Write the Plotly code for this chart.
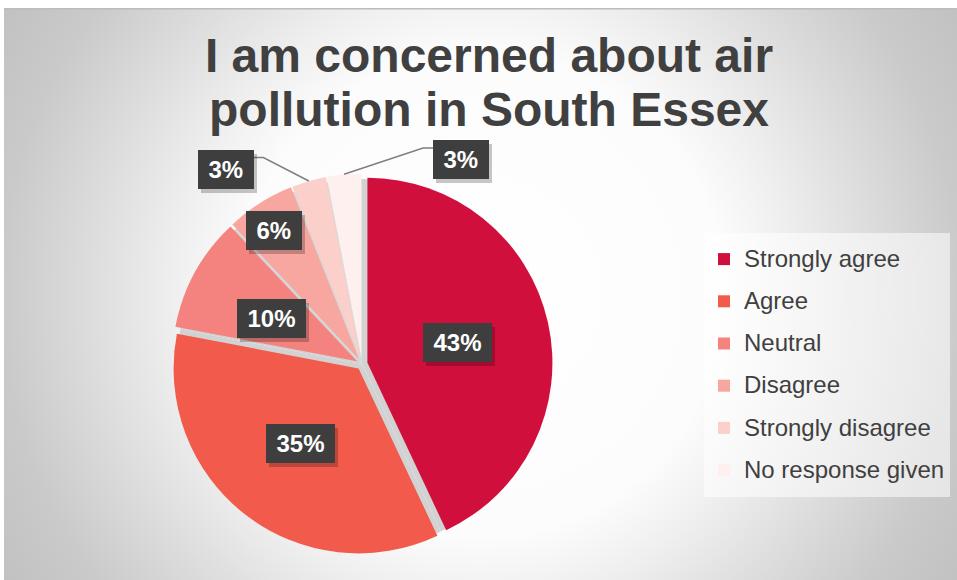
import math
import base64
import plotly.graph_objects as go

# ---------------- data ----------------
categories = ["Strongly agree", "Agree", "Neutral", "Disagree",
              "Strongly disagree", "No response given"]
values = [43, 35, 10, 6, 3, 3]
title_lines = ["I am concerned about air", "pollution in South Essex"]

# ---------------- style ----------------
colors = ["#D10F3D", "#F25A4B", "#F4837F", "#F7A6A0", "#FBCFCA", "#FEF0EE"]
W, H = 957, 580
CX, CY, R, PULL = 362, 364, 185, 0.03
FONT = "Liberation Sans, Arial, sans-serif"
# data-label placement: (radial fraction of R, angle offset in degrees)
label_place = [(0.50, 0), (0.515, 0), (0.517, -2.2), (0.836, -0.9),
               (1.256, -19.3), (1.20, 32)]

def px_to_paper(x, y):
    return x / W, 1 - y / H

# background (radial gradient) as an SVG image
BX0, BY0 = 4, 8
bw, bh = W - BX0, H - BY0
gx, gy, gr = 482 - BX0, 295 - BY0, 560
svg = f'''<svg xmlns="http://www.w3.org/2000/svg" width="{bw}" height="{bh}" viewBox="0 0 {bw} {bh}">
<defs><radialGradient id="g" gradientUnits="userSpaceOnUse" cx="{gx}" cy="{gy}" r="{gr}">
<stop offset="0" stop-color="#ffffff"/>
<stop offset="0.43" stop-color="#fcfcfc"/>
<stop offset="0.55" stop-color="#efefef"/>
<stop offset="0.714" stop-color="#dbdbdb"/>
<stop offset="0.857" stop-color="#cacaca"/>
<stop offset="1" stop-color="#c1c1c1"/>
</radialGradient></defs>
<rect x="0" y="0" width="{bw}" height="{bh}" fill="url(#g)"/>
<line x1="0" y1="0.75" x2="{bw}" y2="0.75" stroke="#bcbcbc" stroke-width="1.5"/>
</svg>'''
bg_src = "data:image/svg+xml;base64," + base64.b64encode(svg.encode()).decode()

fig = go.Figure()

# shadow pie underneath (fills the gaps between exploded slices)
half0 = R
fig.add_trace(go.Pie(
    labels=[c + " (shadow)" for c in categories], values=values,
    marker=dict(colors=["#d2d2d2"] * len(values), line=dict(width=0)),
    sort=False, direction="clockwise", rotation=0, textinfo="none",
    hoverinfo="skip", showlegend=False,
    domain=dict(x=[(CX - half0) / W, (CX + half0) / W],
                y=[1 - (CY + half0) / H, 1 - (CY - half0) / H]),
))

# main pie
half = R * (1 + PULL)
legend_labels = [f"<span style='font-size:24px;baseline-shift:4px'>{c}</span>" for c in categories]
fig.add_trace(go.Pie(
    labels=legend_labels, values=values,
    marker=dict(colors=colors, line=dict(width=0)),
    pull=[PULL] * len(values),
    sort=False, direction="clockwise", rotation=0, textinfo="none",
    hovertemplate="%{customdata}: %{percent}<extra></extra>",
    customdata=categories,
    domain=dict(x=[(CX - half) / W, (CX + half) / W],
                y=[1 - (CY + half) / H, 1 - (CY - half) / H]),
))

# data labels (dark boxes) and leader lines, computed from the slice geometry
total = sum(values)
annotations = []
shapes = []
cum = 0
for i, v in enumerate(values):
    a0 = 360 * cum / total
    span = 360 * v / total
    cum += v
    bis = math.radians(a0 + span / 2)
    pcx = CX + PULL * R * math.sin(bis)
    pcy = CY - PULL * R * math.cos(bis)
    frac, off = label_place[i]
    ang = bis + math.radians(off)
    lx = pcx + frac * R * math.sin(ang)
    ly = pcy - frac * R * math.cos(ang)
    txt = f"{round(100 * v / total)}%"
    text_w = 24 * (0.556 * (len(txt) - 1) + 0.889)
    wparam = text_w + 11
    box_w = wparam + 10
    xp, yp = px_to_paper(lx, ly)
    # drop shadow
    annotations.append(dict(
        x=xp, y=yp, xref="paper", yref="paper", xanchor="center", yanchor="middle",
        text=" ", showarrow=False, width=wparam, height=29, borderpad=5,
        borderwidth=0, bgcolor="rgba(0,0,0,0.22)", xshift=3, yshift=-4,
        font=dict(size=24, family=FONT)))
    annotations.append(dict(
        x=xp, y=yp, xref="paper", yref="paper", xanchor="center", yanchor="middle",
        text=txt, showarrow=False, width=wparam, height=29, borderpad=5,
        borderwidth=0, bgcolor="#3e3e3e",
        font=dict(size=24, family=FONT, color="white", weight="bold")))
    if frac > 1:
        sx = pcx + R * math.sin(bis)
        sy = pcy - R * math.cos(bis)
        if lx < sx:
            ex = lx + box_w / 2
            elx = ex + 10
        else:
            ex = lx - box_w / 2
            elx = ex - 10
        ey = ly - 12
        p1 = px_to_paper(sx, sy)
        p2 = px_to_paper(elx, ey)
        p3 = px_to_paper(ex, ey)
        shapes.append(dict(
            type="path", xref="paper", yref="paper",
            path=f"M {p1[0]},{p1[1]} L {p2[0]},{p2[1]} L {p3[0]},{p3[1]}",
            line=dict(color="#7f7f7f", width=1.5)))

title_text = "<br>".join(f"<span style='font-size:48px'>{t}</span>" for t in title_lines)

fig.update_layout(
    width=W, height=H,
    margin=dict(l=0, r=0, t=0, b=0),
    paper_bgcolor="white", plot_bgcolor="rgba(0,0,0,0)",
    title=dict(text=title_text, x=489 / W, xanchor="center", xref="paper",
               y=1 - 72 / H, yanchor="top", yref="container",
               font=dict(family=FONT, size=41.5, color="#404040", weight="bold")),
    legend=dict(x=704 / W, y=1 - 233 / H, xanchor="left", yanchor="top",
                bgcolor="rgba(255,255,255,0.55)", borderwidth=0,
                font=dict(family=FONT, size=30.15, color="#404040"),
                traceorder="normal"),
    images=[dict(source=bg_src, xref="paper", yref="paper",
                 x=BX0 / W, y=1 - BY0 / H, sizex=bw / W, sizey=bh / H,
                 xanchor="left", yanchor="top", sizing="stretch", layer="below")],
    annotations=annotations,
    shapes=shapes,
)

fig.write_html("out.html", config={"displayModeBar": False},
               post_script="document.body.style.margin='0';document.body.style.overflow='hidden';")
